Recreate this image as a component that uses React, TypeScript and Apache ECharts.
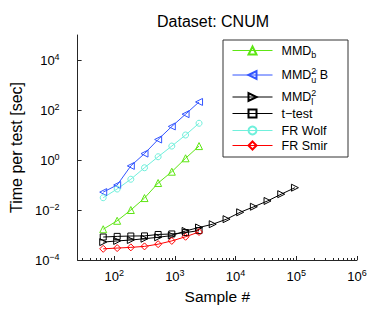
import React, { useEffect, useRef } from 'react';
import * as echarts from 'echarts';

const FONT = "'Liberation Sans', Arial, Helvetica, sans-serif";

// Sample sizes (x)
const sampleSizes = [66, 112, 188, 316, 530, 890, 1500, 2500];
const sampleSizesLong = [66, 112, 188, 316, 530, 890, 1500, 2500, 4200, 7100, 11900, 20000, 33600, 56500, 95000];

// Time per test [sec]
const mmdB = [0.0017, 0.0037, 0.01, 0.03, 0.12, 0.34, 1.17, 3.6];
const mmdUB = [0.052, 0.1, 0.58, 1.8, 6.6, 22, 68, 210];
const mmdL = [5.2e-4, 5.8e-4, 6.3e-4, 7.1e-4, 8.1e-4, 9.5e-4, 1.45e-3, 2.0e-3, 2.7e-3, 4.3e-3, 8.1e-3, 1.35e-2, 2.3e-2, 4.3e-2, 7.8e-2];
const tTest = [8.3e-4, 8.8e-4, 9.1e-4, 9.2e-4, 1.05e-3, 1.1e-3, 1.25e-3, 1.5e-3];
const frWolf = [0.031, 0.069, 0.17, 0.49, 1.35, 3.6, 10, 29.5];
const frSmir = [2.8e-4, 3.0e-4, 3.2e-4, 3.5e-4, 4.3e-4, 5.8e-4, 8.5e-4, 1.32e-3];

// Axis ticks
const xMajorTicks = [100, 1000, 10000, 100000, 1000000];
const xMinorTicks = [
  30, 40, 50, 60, 70, 80, 90,
  200, 300, 400, 500, 600, 700, 800, 900,
  2000, 3000, 4000, 5000, 6000, 7000, 8000, 9000,
  20000, 30000, 40000, 50000, 60000, 70000, 80000, 90000,
  200000, 300000, 400000, 500000, 600000, 700000, 800000, 900000,
];
const yTicks = [1e-4, 1e-2, 1, 1e2, 1e4];

const seriesNames = ['MMD_b', 'MMD_u^2 B', 'MMD_l^2', 't−test', 'FR Wolf', 'FR Smir'];
const legendRich: Record<string, string> = {
  'MMD_b': '{g| }{n|MMD}{sub|b}',
  'MMD_u^2 B': '{g| }{n|MMD}{supw|2}{sub|u}{n| B}',
  'MMD_l^2': '{g| }{n|MMD}{supw|2}{sub|l}',
  't−test': '{g| }{n|t−test}',
  'FR Wolf': '{g| }{n|FR Wolf}',
  'FR Smir': '{g| }{n|FR Smir}',
};

const zip = (xs: number[], ys: number[]) => ys.map((y, i) => [xs[i], y]);

const expLabel = (v: number) => {
  const l = Math.log10(v);
  const e = Math.round(l);
  if (Math.abs(l - e) > 1e-6) return '';
  const s = e < 0 ? '−' + Math.abs(e) : String(e);
  return '{b|10}{s|' + s + '}';
};

const tickRich = {
  b: { fontSize: 13, fontFamily: FONT, color: '#000', lineHeight: 16 },
  s: { fontSize: 9, fontFamily: FONT, color: '#000', lineHeight: 8, verticalAlign: 'top' },
};

export default function App() {
  const ref = useRef<HTMLDivElement>(null);
  useEffect(() => {
    if (!ref.current) return;
    const chart = echarts.init(ref.current, undefined, { renderer: 'svg' });

    const colors = ['#5ee614', '#3355ff', '#000000', '#000000', '#70f0dc', '#ff0000'];
    const symbols = ['triangle', 'triangle', 'triangle', 'rect', 'circle', 'diamond'];
    const rotates = [0, 90, -90, 0, 0, 0];
    const sizes = [7, 7, 7, 6, 6, 7];
    const datas = [
      zip(sampleSizes, mmdB),
      zip(sampleSizes, mmdUB),
      zip(sampleSizesLong, mmdL),
      zip(sampleSizes, tTest),
      zip(sampleSizes, frWolf),
      zip(sampleSizes, frSmir),
    ];

    const series = seriesNames.map((name, i) => ({
      type: 'line',
      name,
      data: datas[i],
      symbol: symbols[i],
      symbolSize: sizes[i],
      symbolRotate: rotates[i],
      showAllSymbol: true,
      color: colors[i],
      lineStyle: { color: colors[i], width: 1 },
      itemStyle: { color: 'rgba(255,255,255,0)', borderColor: colors[i], borderWidth: 1 },
      emphasis: { disabled: true },
    }));

    const legendRowsY = [53, 75, 97, 116, 133, 148];
    const legends = seriesNames.map((name, i) => ({
      data: [name],
      left: 232,
      top: legendRowsY[i] - 9,
      padding: 0,
      itemWidth: 40,
      itemHeight: 10,
      selectedMode: false,
      lineStyle: { width: 1 },
      formatter: (n: string) => legendRich[n],
      textStyle: {
        fontFamily: FONT,
        fontSize: 12.5,
        color: '#000',
        rich: {
          g: { width: 4, fontSize: 12.5, lineHeight: 18 },
          n: { fontSize: 12.5, fontFamily: FONT, color: '#000', lineHeight: 18 },
          sub: { fontSize: 9, fontFamily: FONT, color: '#000', lineHeight: 6, verticalAlign: 'bottom' },
          supw: { fontSize: 9, fontFamily: FONT, color: '#000', lineHeight: 6, verticalAlign: 'top', width: 0 },
        },
      },
    }));

    chart.setOption({
      animation: false,
      backgroundColor: '#fff',
      title: {
        text: 'Dataset: CNUM',
        left: 208,
        top: 8,
        textAlign: 'center',
        textStyle: { fontSize: 16, fontWeight: 'normal', fontFamily: FONT, color: '#000' },
      },
      grid: { left: 61, right: 17, top: 35, bottom: 50 },
      legend: legends,
      graphic: [
        {
          type: 'rect',
          shape: { x: 223, y: 40, width: 125, height: 117 },
          style: { fill: 'none', stroke: '#333', lineWidth: 1 },
          z: 10,
        },
      ],
      xAxis: [
        {
          type: 'log',
          logBase: 10,
          min: 25,
          max: 1e6,
          name: 'Sample #',
          nameLocation: 'middle',
          nameGap: 28,
          nameTextStyle: { fontSize: 15.5, fontFamily: FONT, color: '#000' },
          axisLine: { lineStyle: { color: '#262626', width: 1 } },
          axisTick: { inside: true, length: 4, customValues: xMajorTicks, lineStyle: { color: '#262626' } },
          axisLabel: { customValues: xMajorTicks, margin: 8, formatter: expLabel, rich: tickRich },
          splitLine: { show: false },
          minorTick: { show: false },
        },
        {
          type: 'log',
          logBase: 10,
          min: 25,
          max: 1e6,
          position: 'bottom',
          axisLine: { show: false },
          axisTick: { inside: true, length: 2, customValues: xMinorTicks, lineStyle: { color: '#262626' } },
          axisLabel: { show: false },
          splitLine: { show: false },
        },
      ],
      yAxis: {
        type: 'log',
        logBase: 10,
        min: 1e-4,
        max: 1e5,
        name: 'Time per test [sec]',
        nameLocation: 'middle',
        nameGap: 38,
        nameTextStyle: { fontSize: 16, fontFamily: FONT, color: '#000' },
        axisLine: { show: true, lineStyle: { color: '#262626', width: 1 } },
        axisTick: { show: true, inside: true, length: 4, customValues: yTicks, lineStyle: { color: '#262626' } },
        axisLabel: { customValues: yTicks, margin: 18, formatter: expLabel, rich: tickRich },
        splitLine: { show: false },
      },
      series,
    });

    return () => chart.dispose();
  }, []);

  return (
    <div
      ref={ref}
      style={{ position: 'fixed', left: 0, top: 0, width: 374, height: 310, background: '#fff' }}
    />
  );
}
